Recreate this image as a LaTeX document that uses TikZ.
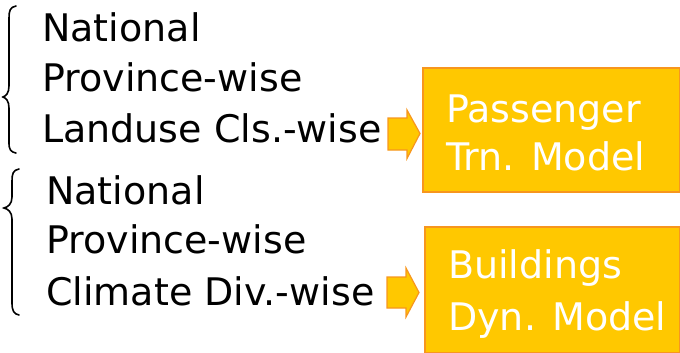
\documentclass[tikz,border=0pt]{standalone}
\usepackage{fontspec}
\setmainfont{DejaVu Sans}
\begin{document}
\begin{tikzpicture}[x=1pt,y=-1pt,
  lbl/.style={anchor=base west,inner sep=0pt,font=\fontsize{38}{40}\selectfont,text=black},
  wlbl/.style={anchor=base west,inner sep=0pt,font=\fontsize{38}{40}\selectfont,text=white},
  modelbox/.style={fill=gold,draw=orangeline,line width=1.2pt},
  blockarrow/.style={fill=gold,draw=orangeline,line width=1.2pt,line join=miter},
  bracepath/.style={draw=black,line width=1.6pt,line cap=round}]
\definecolor{gold}{HTML}{FFC800}
\definecolor{orangeline}{HTML}{F7961E}
\useasboundingbox (0,0) rectangle (680,353);
% model boxes
\path[modelbox] (423,68) rectangle (679.4,192);
\path[modelbox] (425,227) rectangle (679.4,352.4);
\node[wlbl] (p1) at (446,122) {Passenger};
\node[wlbl] (p2) at (446,170) {Trn. Model};
\node[wlbl] (b1) at (448,278) {Buildings};
\node[wlbl] (b2) at (448,330) {Dyn. Model};
% top list
\node[lbl] (t1) at (42,42) {National};
\node[lbl] (t2) at (42,92) {Province-wise};
\node[lbl] (t3) at (42,142) {Landuse Cls.-wise};
% bottom list
\node[lbl] (u1) at (46,204) {National};
\node[lbl] (u2) at (46,253) {Province-wise};
\node[lbl] (u3) at (46,305) {Climate Div.-wise};
% braces
\path[bracepath] (16,6) .. controls (10,7) and (9,11) .. (9,18) -- (9,86)
  .. controls (9,93) and (6,96) .. (3,97)
  .. controls (6,98) and (9,101) .. (9,108) -- (9,143)
  .. controls (9,150) and (11,152) .. (16,153);
\path[bracepath] (19,169) .. controls (13,170) and (12,174) .. (12,181) -- (12,197)
  .. controls (12,204) and (8,207) .. (4,208)
  .. controls (8,209) and (12,212) .. (12,219) -- (12,303)
  .. controls (12,311) and (14,314) .. (19,315);
% block arrows
\path[blockarrow] (388,118) -- (407,118) -- (407,110) -- (420,133.5) -- (407,158.5)
  -- (407,150) -- (388,150) -- cycle;
\path[blockarrow] (387,277) -- (406,277) -- (406,268) -- (419,292.5) -- (406,317)
  -- (406,308) -- (387,308) -- cycle;
\end{tikzpicture}
\end{document}
